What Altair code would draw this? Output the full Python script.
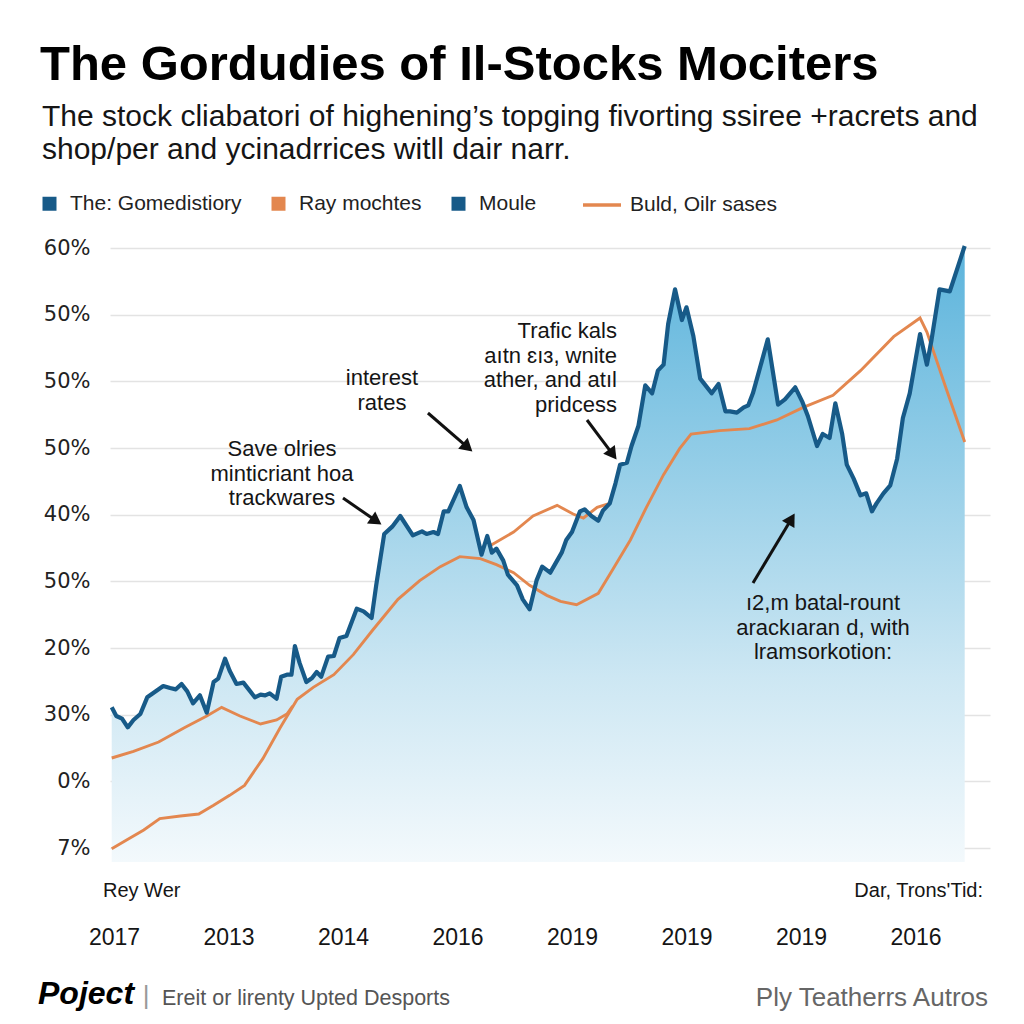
import json
import math
import altair as alt
import pandas as pd

# ---------------- data ----------------
year_labels = ["2017", "2013", "2014", "2016", "2019", "2019", "2019", "2016"]
pct_labels = ["7%", "0%", "30%", "20%", "50%", "40%", "50%", "50%", "50%", "60%"]  # bottom -> top
pct_ticks = [0, 10, 20, 30, 40, 50, 60, 70, 80, 90]

blue_t = [-0.02, 0.02, 0.07, 0.12, 0.17, 0.23, 0.29, 0.34, 0.43, 0.49,
          0.54, 0.59, 0.64, 0.69, 0.75, 0.81, 0.87, 0.91, 0.97, 1.01,
          1.07, 1.13, 1.19, 1.23, 1.28, 1.32, 1.36, 1.42, 1.46, 1.51,
          1.55, 1.58, 1.62, 1.68, 1.73, 1.77, 1.81, 1.87, 1.92, 1.97,
          2.03, 2.12, 2.18, 2.25, 2.29, 2.36, 2.43, 2.5, 2.61, 2.69,
          2.73, 2.79, 2.83, 2.88, 2.92, 3.02, 3.08, 3.14, 3.21, 3.26,
          3.3, 3.34, 3.4, 3.44, 3.52, 3.57, 3.63, 3.69, 3.74, 3.81,
          3.85, 3.91, 3.95, 4.0, 4.07, 4.11, 4.17, 4.23, 4.27, 4.33,
          4.38, 4.42, 4.48, 4.52, 4.58, 4.64, 4.7, 4.75, 4.8, 4.84,
          4.9, 4.96, 5.0, 5.06, 5.12, 5.18, 5.22, 5.28, 5.34, 5.38,
          5.44, 5.5, 5.54, 5.58, 5.64, 5.71, 5.8, 5.86, 5.95, 6.01,
          6.06, 6.14, 6.19, 6.25, 6.3, 6.36, 6.4, 6.46, 6.52, 6.57,
          6.62, 6.66, 6.72, 6.78, 6.84, 6.89, 6.95, 7.04, 7.1, 7.14,
          7.21, 7.3, 7.43]
blue_v = [21.1, 19.8, 19.4, 18.1, 19.2, 20.1, 22.6, 23.2, 24.3, 24.0,
          23.8, 24.6, 23.5, 21.7, 22.9, 20.3, 24.9, 25.4, 28.4, 26.6,
          24.6, 24.8, 23.5, 22.6, 23.0, 22.9, 23.2, 22.4, 25.7, 26.0,
          26.0, 30.3, 27.8, 24.9, 25.5, 26.4, 25.7, 28.7, 28.8, 31.5,
          31.8, 35.9, 35.5, 34.5, 39.4, 47.1, 48.2, 49.8, 46.9, 47.5,
          47.1, 47.4, 47.1, 50.5, 50.5, 54.3, 51.1, 49.2, 44.0, 46.8,
          44.3, 44.9, 43.1, 41.0, 39.4, 37.3, 35.8, 40.1, 42.2, 41.3,
          42.5, 44.3, 46.2, 47.4, 50.5, 50.8, 49.8, 49.1, 50.6, 51.7,
          54.7, 57.5, 57.8, 60.3, 63.3, 69.4, 68.2, 71.6, 72.5, 78.6,
          83.8, 79.2, 81.1, 76.8, 70.4, 69.1, 68.2, 69.6, 65.5, 65.5,
          65.3, 66.1, 66.4, 68.2, 71.9, 76.3, 66.5, 67.3, 69.1, 67.0,
          64.8, 60.3, 62.1, 61.5, 66.7, 62.1, 57.5, 55.4, 52.9, 53.2,
          50.5, 51.7, 53.2, 54.4, 58.4, 64.5, 68.2, 77.1, 72.5, 76.2,
          83.8, 83.5, 90.3]

orangeA_t = [-0.02, 0.17, 0.39, 0.61, 0.81, 0.94, 1.1, 1.28, 1.42, 1.51, 1.56,
             3.28, 3.49, 3.66, 3.87, 4.01, 4.1, 4.22, 4.33]
orangeA_v = [13.5, 14.5, 15.9, 18.0, 19.8, 21.1, 19.8, 18.6, 19.2, 20.1, 21.3,
             45.3, 47.4, 49.8, 51.4, 50.1, 49.5, 51.1, 51.7]
orangeA_seg = [1] * 11 + [2] * 8

orangeB_t = [-0.02, 0.11, 0.26, 0.4, 0.58, 0.74, 0.87, 1.01, 1.14, 1.3,
             1.45, 1.6, 1.74, 1.92, 2.09, 2.26, 2.48, 2.67, 2.85, 3.02,
             3.2, 3.34, 3.49, 3.63, 3.78, 3.9, 4.04, 4.23, 4.36, 4.51,
             4.65, 4.8, 4.94, 5.04, 5.29, 5.55, 5.79, 6.02, 6.28, 6.52,
             6.81, 7.04, 7.1, 7.27, 7.43]
orangeB_v = [-0.1, 1.2, 2.7, 4.4, 4.8, 5.1, 6.4, 7.9, 9.4, 13.4,
             18.0, 22.3, 24.1, 26.0, 29.0, 32.7, 37.3, 40.1, 42.2, 43.7,
             43.4, 42.5, 41.3, 39.4, 37.9, 37.0, 36.5, 38.2, 41.9, 46.2,
             51.1, 56.0, 59.9, 62.1, 62.6, 62.9, 64.2, 66.1, 67.9, 71.6,
             76.7, 79.5, 77.4, 68.8, 60.9]

legend_square_names = ["The: Gomedistiory", "Ray mochtes", "Moule"]
legend_line_names = ["Buld, Oilr sases"]

# annotation anchors: position of the first text line
note_center_text = ["Save olries\nminticriant hoa\ntrackwares",
                    "interest\nrates",
                    "ı2,m batal-rount\narackıaran d, with\nlramsorkotion:"]
note_center_t = [1.467, 2.34, 6.192]
note_center_v = [59.85, 70.5, 36.75]
note_right_text = ["Trafic kals\naıtn ɛıɜ, wnite\nather, and atıl\npridcess"]
note_right_t = [4.393]
note_right_v = [77.55]

arrow_tail_t = [2.0, 2.742, 4.131, 5.581]
arrow_tail_v = [52.5, 65.25, 64.2, 39.75]
arrow_head_t = [2.341, 3.135, 4.393, 5.948]
arrow_head_v = [48.45, 59.4, 58.2, 50.25]

# ---------------- styling / layout ----------------
W, H = 880, 627
XDOM = [-0.035, 7.651]
YDOM = [-2.1, 91.95]
PPX = W / (XDOM[1] - XDOM[0])
PPY = H / (YDOM[1] - YDOM[0])
BLUE = "#175a88"
ORANGE = "#e3874f"
FONT = "Liberation Sans"
INK = "#151515"

xs = alt.Scale(domain=XDOM, nice=False, zero=False)
ys = alt.Scale(domain=YDOM, nice=False, zero=False)

x_axis = alt.Axis(values=list(range(len(year_labels))),
                  labelExpr=f"{json.dumps(year_labels)}[round(datum.value)]",
                  title=None, grid=False, domain=False, ticks=False, tickSize=0,
                  labelFont=FONT, labelFontSize=23, labelColor=INK,
                  labelPadding=64, labelFlush=False)
y_axis = alt.Axis(values=pct_ticks,
                  labelExpr=f"{json.dumps(pct_labels)}[round(datum.value/10)]",
                  title=None, grid=True, gridColor="#e3e3e3", gridWidth=1.6,
                  domain=False, ticks=False, tickSize=0,
                  labelFont="DejaVu Sans", labelFontSize=21, labelColor="#222",
                  labelPadding=20)


def X(field):
    return alt.X(field, type="quantitative", scale=xs, axis=x_axis, title=None)


def Y(field):
    return alt.Y(field, type="quantitative", scale=ys, axis=y_axis, title=None)


blue_df = pd.DataFrame({"t": blue_t, "v": blue_v})
oa_df = pd.DataFrame({"t": orangeA_t, "v": orangeA_v, "seg": orangeA_seg})
ob_df = pd.DataFrame({"t": orangeB_t, "v": orangeB_v})

gradient = alt.Gradient(
    gradient="linear",
    stops=[alt.GradientStop(color="#5cb4dc", offset=0),
           alt.GradientStop(color="#93cde7", offset=0.35),
           alt.GradientStop(color="#cde7f3", offset=0.7),
           alt.GradientStop(color="#f3f9fc", offset=1)],
    x1=0, x2=0, y1=0, y2=1)

area = alt.Chart(blue_df).mark_area(color=gradient, line=False).encode(
    x=X("t"), y=Y("v"), y2=alt.datum(YDOM[0]))

line_a = alt.Chart(oa_df).mark_line(color=ORANGE, strokeWidth=2.9).encode(
    x=X("t"), y=Y("v"), detail="seg:N")
line_b = alt.Chart(ob_df).mark_line(color=ORANGE, strokeWidth=2.9).encode(
    x=X("t"), y=Y("v"))
line_blue = alt.Chart(blue_df).mark_line(color=BLUE, strokeWidth=4.2,
                                         strokeJoin="round").encode(
    x=X("t"), y=Y("v"))

# arrows: shaft + rotated triangle head
rows = []
for tt, tv, ht, hv in zip(arrow_tail_t, arrow_tail_v, arrow_head_t, arrow_head_v):
    dxp = (ht - tt) * PPX
    dyp = -(hv - tv) * PPY
    L = math.hypot(dxp, dyp)
    ux, uy = dxp / L, dyp / L
    back = 7.0
    ct = ht - back * ux / PPX
    cv = hv + back * uy / PPY
    ang = math.degrees(math.atan2(dxp, -dyp)) % 360
    rows.append({"t": tt, "v": tv, "t2": ct, "v2": cv, "ang": ang})
arrow_df = pd.DataFrame(rows)

shafts = alt.Chart(arrow_df).mark_rule(color="#111", strokeWidth=3).encode(
    x=X("t"), y=Y("v"), x2="t2:Q", y2="v2:Q")
heads = alt.Chart(arrow_df).mark_point(shape="triangle-up", filled=True,
                                       size=210, color="#111", opacity=1).encode(
    x=X("t2"), y=Y("v2"), angle=alt.Angle("ang:Q", scale=None))

notes_c = alt.Chart(pd.DataFrame({"t": note_center_t, "v": note_center_v,
                                  "s": note_center_text})).mark_text(
    align="center", baseline="middle", lineBreak="\n", lineHeight=24.5,
    font=FONT, fontSize=22, color=INK).encode(x=X("t"), y=Y("v"), text="s:N")
notes_r = alt.Chart(pd.DataFrame({"t": note_right_t, "v": note_right_v,
                                  "s": note_right_text})).mark_text(
    align="right", baseline="middle", lineBreak="\n", lineHeight=24.5,
    font=FONT, fontSize=22, color=INK).encode(x=X("t"), y=Y("v"), text="s:N")

# legends (driven by scales, dummy rows are clipped away outside the domain)
leg1_df = pd.DataFrame({"name": legend_square_names,
                        "t": [-1.0] * 3, "v": [0.0] * 3})
leg1 = alt.Chart(leg1_df).mark_square(clip=True, size=10).encode(
    x=X("t"), y=Y("v"),
    color=alt.Color("name:N",
                    scale=alt.Scale(domain=legend_square_names,
                                    range=[BLUE, ORANGE, BLUE]),
                    legend=alt.Legend(orient="none", legendX=-71, legendY=-42,
                                      direction="horizontal", title=None,
                                      symbolType="square", symbolSize=196,
                                      symbolStrokeWidth=0, symbolOpacity=1,
                                      labelFont=FONT, labelLimit=0,
                                      labelFontSize=21, labelColor="#222",
                                      labelOffset=10, columnPadding=26,
                                      padding=0)))
leg2_df = pd.DataFrame({"name2": legend_line_names * 2,
                        "t": [-1.0, -0.9], "v": [0.0, 0.0]})
leg2 = alt.Chart(leg2_df).mark_line(clip=True, strokeWidth=3).encode(
    x=X("t"), y=Y("v"),
    stroke=alt.Stroke("name2:N",
                      scale=alt.Scale(domain=legend_line_names, range=[ORANGE]),
                      legend=alt.Legend(orient="none", legendX=471, legendY=-51,
                                        direction="horizontal", title=None,
                                        symbolType="stroke", symbolSize=1444,
                                        symbolStrokeWidth=3.5, symbolOpacity=1,
                                        labelFont=FONT, labelLimit=0,
                                        labelFontSize=21, labelColor="#222",
                                        labelOffset=7, padding=0)))


def ptext(txt, x, y, size, weight="normal", color=INK, align="left",
          font=FONT, style="normal"):
    return alt.Chart(pd.DataFrame({"s": [txt]})).mark_text(
        align=align, baseline="alphabetic", fontSize=size, fontWeight=weight,
        font=font, color=color, fontStyle=style).encode(
        x=alt.value(x), y=alt.value(y), text="s:N")


texts = [
    ptext("The Gordudies of Il-Stocks Mociters", -70, -155, 49, weight="bold", color="#000"),
    ptext("The stock cliabatori of highening’s topging fivorting ssiree +racrets and", -68, -109, 30),
    ptext("shop/per and ycinadrrices witll dair narr.", -68, -76, 30),
    ptext("Rey Wer", -7, 662, 20),
    ptext("Dar, Trons'Tid:", 873, 662, 20, align="right"),
    ptext("Poject", -72, 769, 32, weight="bold", color="#000", style="italic"),
    ptext("|", 36, 769, 26, color="#999", align="center"),
    ptext("Ereit or lirenty Upted Desports", 52, 770, 21.5, color="#555"),
    ptext("Ply Teatherrs Autros", 878, 771, 26, color="#666", align="right"),
]

chart = alt.layer(area, line_a, line_b, line_blue, shafts, heads, notes_c,
                  notes_r, leg1, leg2, *texts).properties(
    width=W, height=H,
    padding={"left": 102, "top": 227, "right": 26, "bottom": 154},
    autosize=alt.AutoSizeParams(type="none"),
    background="white",
).configure_view(strokeWidth=0)

chart.save("out.html", embed_options={"renderer": "svg", "actions": False})
